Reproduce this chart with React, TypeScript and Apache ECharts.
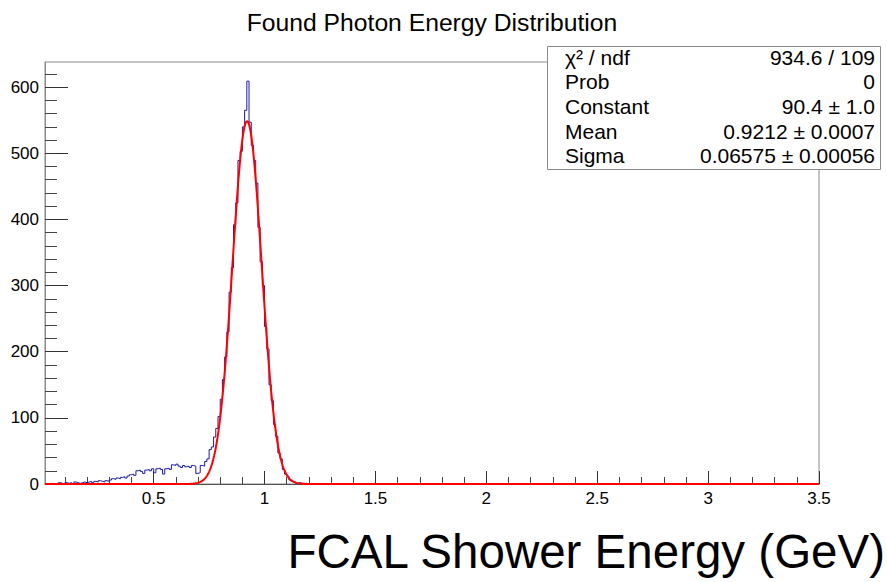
import React, { useEffect, useRef } from "react";
import * as echarts from "echarts";

// ---- data ----
const binLow = 0.01;
const binWidth = 0.01;
const xMin = 0.01;
const xMax = 3.5;
const yMin = 0;
const yMax = 638;

// bin contents, first bin starts at binLow (0.01), width 0.01
const counts: number[] = [
  0, 0, 1, 0, 1, 0, 2, 1, 0,
  2, 1, 2, 0, 3, 2, 1, 2, 3, 2,
  3, 4, 2, 4, 3, 5, 4, 3, 5, 4,
  6, 8, 7, 9, 8, 10, 11, 9, 12, 14,
  15, 13, 20, 21, 19, 16, 21, 22, 20, 23,
  17, 23, 24, 22, 15, 23, 24, 22, 29, 28,
  30, 27, 25, 28, 26, 27, 25, 28, 27, 16,
  17, 28, 27, 34, 38, 52, 56, 71, 84, 102,
  128, 158, 192, 230, 290, 327, 392, 425, 489, 503,
  540, 565, 609, 547, 512, 489, 455, 388, 336, 300,
  238, 204, 150, 126, 90, 72, 47, 38, 22, 15,
  12, 6, 4, 3, 1, 2, 1, 1, 1, 0,
];

// fit parameters (normalised gaussian)
const fitConstant = 90.4;
const fitMean = 0.9212;
const fitSigma = 0.06575;

const xMajorTicks = [0.5, 1, 1.5, 2, 2.5, 3, 3.5];
const xMinorTicks = [
  0.1, 0.2, 0.3, 0.4, 0.6, 0.7, 0.8, 0.9, 1.1, 1.2, 1.3, 1.4, 1.6, 1.7, 1.8, 1.9,
  2.1, 2.2, 2.3, 2.4, 2.6, 2.7, 2.8, 2.9, 3.1, 3.2, 3.3, 3.4,
];
const yMajorTicks = [0, 100, 200, 300, 400, 500, 600];
const yMinorTicks = [
  20, 40, 60, 80, 120, 140, 160, 180, 220, 240, 260, 280, 320, 340, 360, 380,
  420, 440, 460, 480, 520, 540, 560, 580, 620,
];

const titleText = "Found Photon Energy Distribution";
const xTitleText = "FCAL Shower Energy (GeV)";
const statLabels = ["χ² / ndf", "Prob", "Constant", "Mean", "Sigma"];
const statValues = ["934.6 / 109", "0", "90.4 ± 1.0", "0.9212 ± 0.0007", "0.06575 ± 0.00056"];

const FONT = "'Liberation Sans', Arial, Helvetica, sans-serif";

function buildHist(): number[][] {
  const pts: number[][] = [[xMin, 0]];
  let last = binLow;
  counts.forEach((c, i) => {
    const lo = +(binLow + i * binWidth).toFixed(4);
    const hi = +(lo + binWidth).toFixed(4);
    pts.push([lo, c], [hi, c]);
    last = hi;
  });
  pts.push([last, 0], [xMax, 0]);
  return pts;
}

function buildFit(): number[][] {
  const amp = fitConstant / (fitSigma * Math.sqrt(2 * Math.PI));
  const pts: number[][] = [];
  const n = 1400;
  for (let i = 0; i <= n; i++) {
    const x = xMin + ((xMax - xMin) * i) / n;
    const d = (x - fitMean) / fitSigma;
    pts.push([x, amp * Math.exp(-0.5 * d * d)]);
  }
  return pts;
}

export default function App() {
  const ref = useRef<HTMLDivElement>(null);
  useEffect(() => {
    if (!ref.current) return;
    const chart = echarts.init(ref.current, null, { renderer: "svg" });
    const gridLeft = 45;
    const gridTop = 62;
    const gridW = 774;
    const gridH = 422;

    const statX = 547;
    const statY = 46;
    const statW = 333;
    const statH = 123;
    const rowH = statH / statLabels.length;

    const graphics: any[] = [
      {
        type: "text",
        z: 100,
        x: 432,
        y: 22,
        style: {
          text: titleText,
          font: `24.7px ${FONT}`,
          fill: "#000",
          align: "center",
          verticalAlign: "middle",
        },
      },
      {
        type: "text",
        z: 100,
        x: 885,
        y: 551,
        style: {
          text: xTitleText,
          font: `47.5px ${FONT}`,
          fill: "#000",
          align: "right",
          verticalAlign: "middle",
        },
      },
      {
        type: "rect",
        z: 100,
        shape: { x: statX + 0.5, y: statY + 0.5, width: statW, height: statH },
        style: { fill: "#fff", stroke: "#8a8a8a", lineWidth: 1 },
      },
    ];
    statLabels.forEach((lab, i) => {
      const cy = statY + rowH * (i + 0.5) - 1;
      graphics.push({
        type: "text",
        z: 101,
        x: 565,
        y: cy,
        style: { text: lab, font: `21px ${FONT}`, fill: "#000", align: "left", verticalAlign: "middle" },
      });
      graphics.push({
        type: "text",
        z: 101,
        x: 875,
        y: cy,
        style: { text: statValues[i], font: `21px ${FONT}`, fill: "#000", align: "right", verticalAlign: "middle" },
      });
    });

    const fmt = (v: number) => String(+Number(v).toFixed(2));

    chart.setOption({
      animation: false,
      textStyle: { fontFamily: FONT },
      grid: {
        left: gridLeft,
        top: gridTop,
        width: gridW,
        height: gridH,
        show: true,
        borderColor: "#8a8a8a",
        borderWidth: 1,
        backgroundColor: "transparent",
      },
      xAxis: [
        {
          type: "value",
          min: xMin,
          max: xMax,
          axisLine: { show: true, onZero: false, lineStyle: { color: "#555", width: 1 } },
          axisTick: { show: true, inside: true, length: 13, customValues: xMajorTicks, lineStyle: { color: "#333" } },
          axisLabel: {
            show: true,
            customValues: xMajorTicks,
            formatter: fmt,
            fontSize: 17,
            color: "#000",
            margin: 6,
            fontFamily: FONT,
          },
          splitLine: { show: false },
        },
        {
          type: "value",
          min: xMin,
          max: xMax,
          position: "bottom",
          axisLine: { show: false },
          axisTick: { show: true, inside: true, length: 7, customValues: xMinorTicks, lineStyle: { color: "#444" } },
          axisLabel: { show: false },
          splitLine: { show: false },
        },
      ],
      yAxis: [
        {
          type: "value",
          min: yMin,
          max: yMax,
          axisLine: { show: true, lineStyle: { color: "#8a8a8a", width: 1 } },
          axisTick: { show: true, inside: true, length: 23, customValues: yMajorTicks, lineStyle: { color: "#333" } },
          axisLabel: {
            show: true,
            customValues: yMajorTicks,
            formatter: fmt,
            fontSize: 17,
            color: "#000",
            margin: 6,
            fontFamily: FONT,
          },
          splitLine: { show: false },
        },
        {
          type: "value",
          min: yMin,
          max: yMax,
          position: "left",
          axisLine: { show: false },
          axisTick: { show: true, inside: true, length: 12, customValues: yMinorTicks, lineStyle: { color: "#444" } },
          axisLabel: { show: false },
          splitLine: { show: false },
        },
      ],
      series: [
        {
          type: "line",
          xAxisIndex: 0,
          yAxisIndex: 0,
          data: buildHist(),
          showSymbol: false,
          symbol: "none",
          lineStyle: { color: "#1a1aa8", width: 1 },
          z: 2,
          silent: true,
        },
        {
          type: "line",
          xAxisIndex: 0,
          yAxisIndex: 0,
          data: buildFit(),
          showSymbol: false,
          symbol: "none",
          smooth: false,
          lineStyle: { color: "#ff0000", width: 2 },
          z: 3,
          silent: true,
        },
      ],
      graphic: graphics,
    });
    return () => chart.dispose();
  }, []);
  return (
    <div
      ref={ref}
      style={{ position: "fixed", left: 0, top: 0, width: 887, height: 582, background: "#fff" }}
    />
  );
}
